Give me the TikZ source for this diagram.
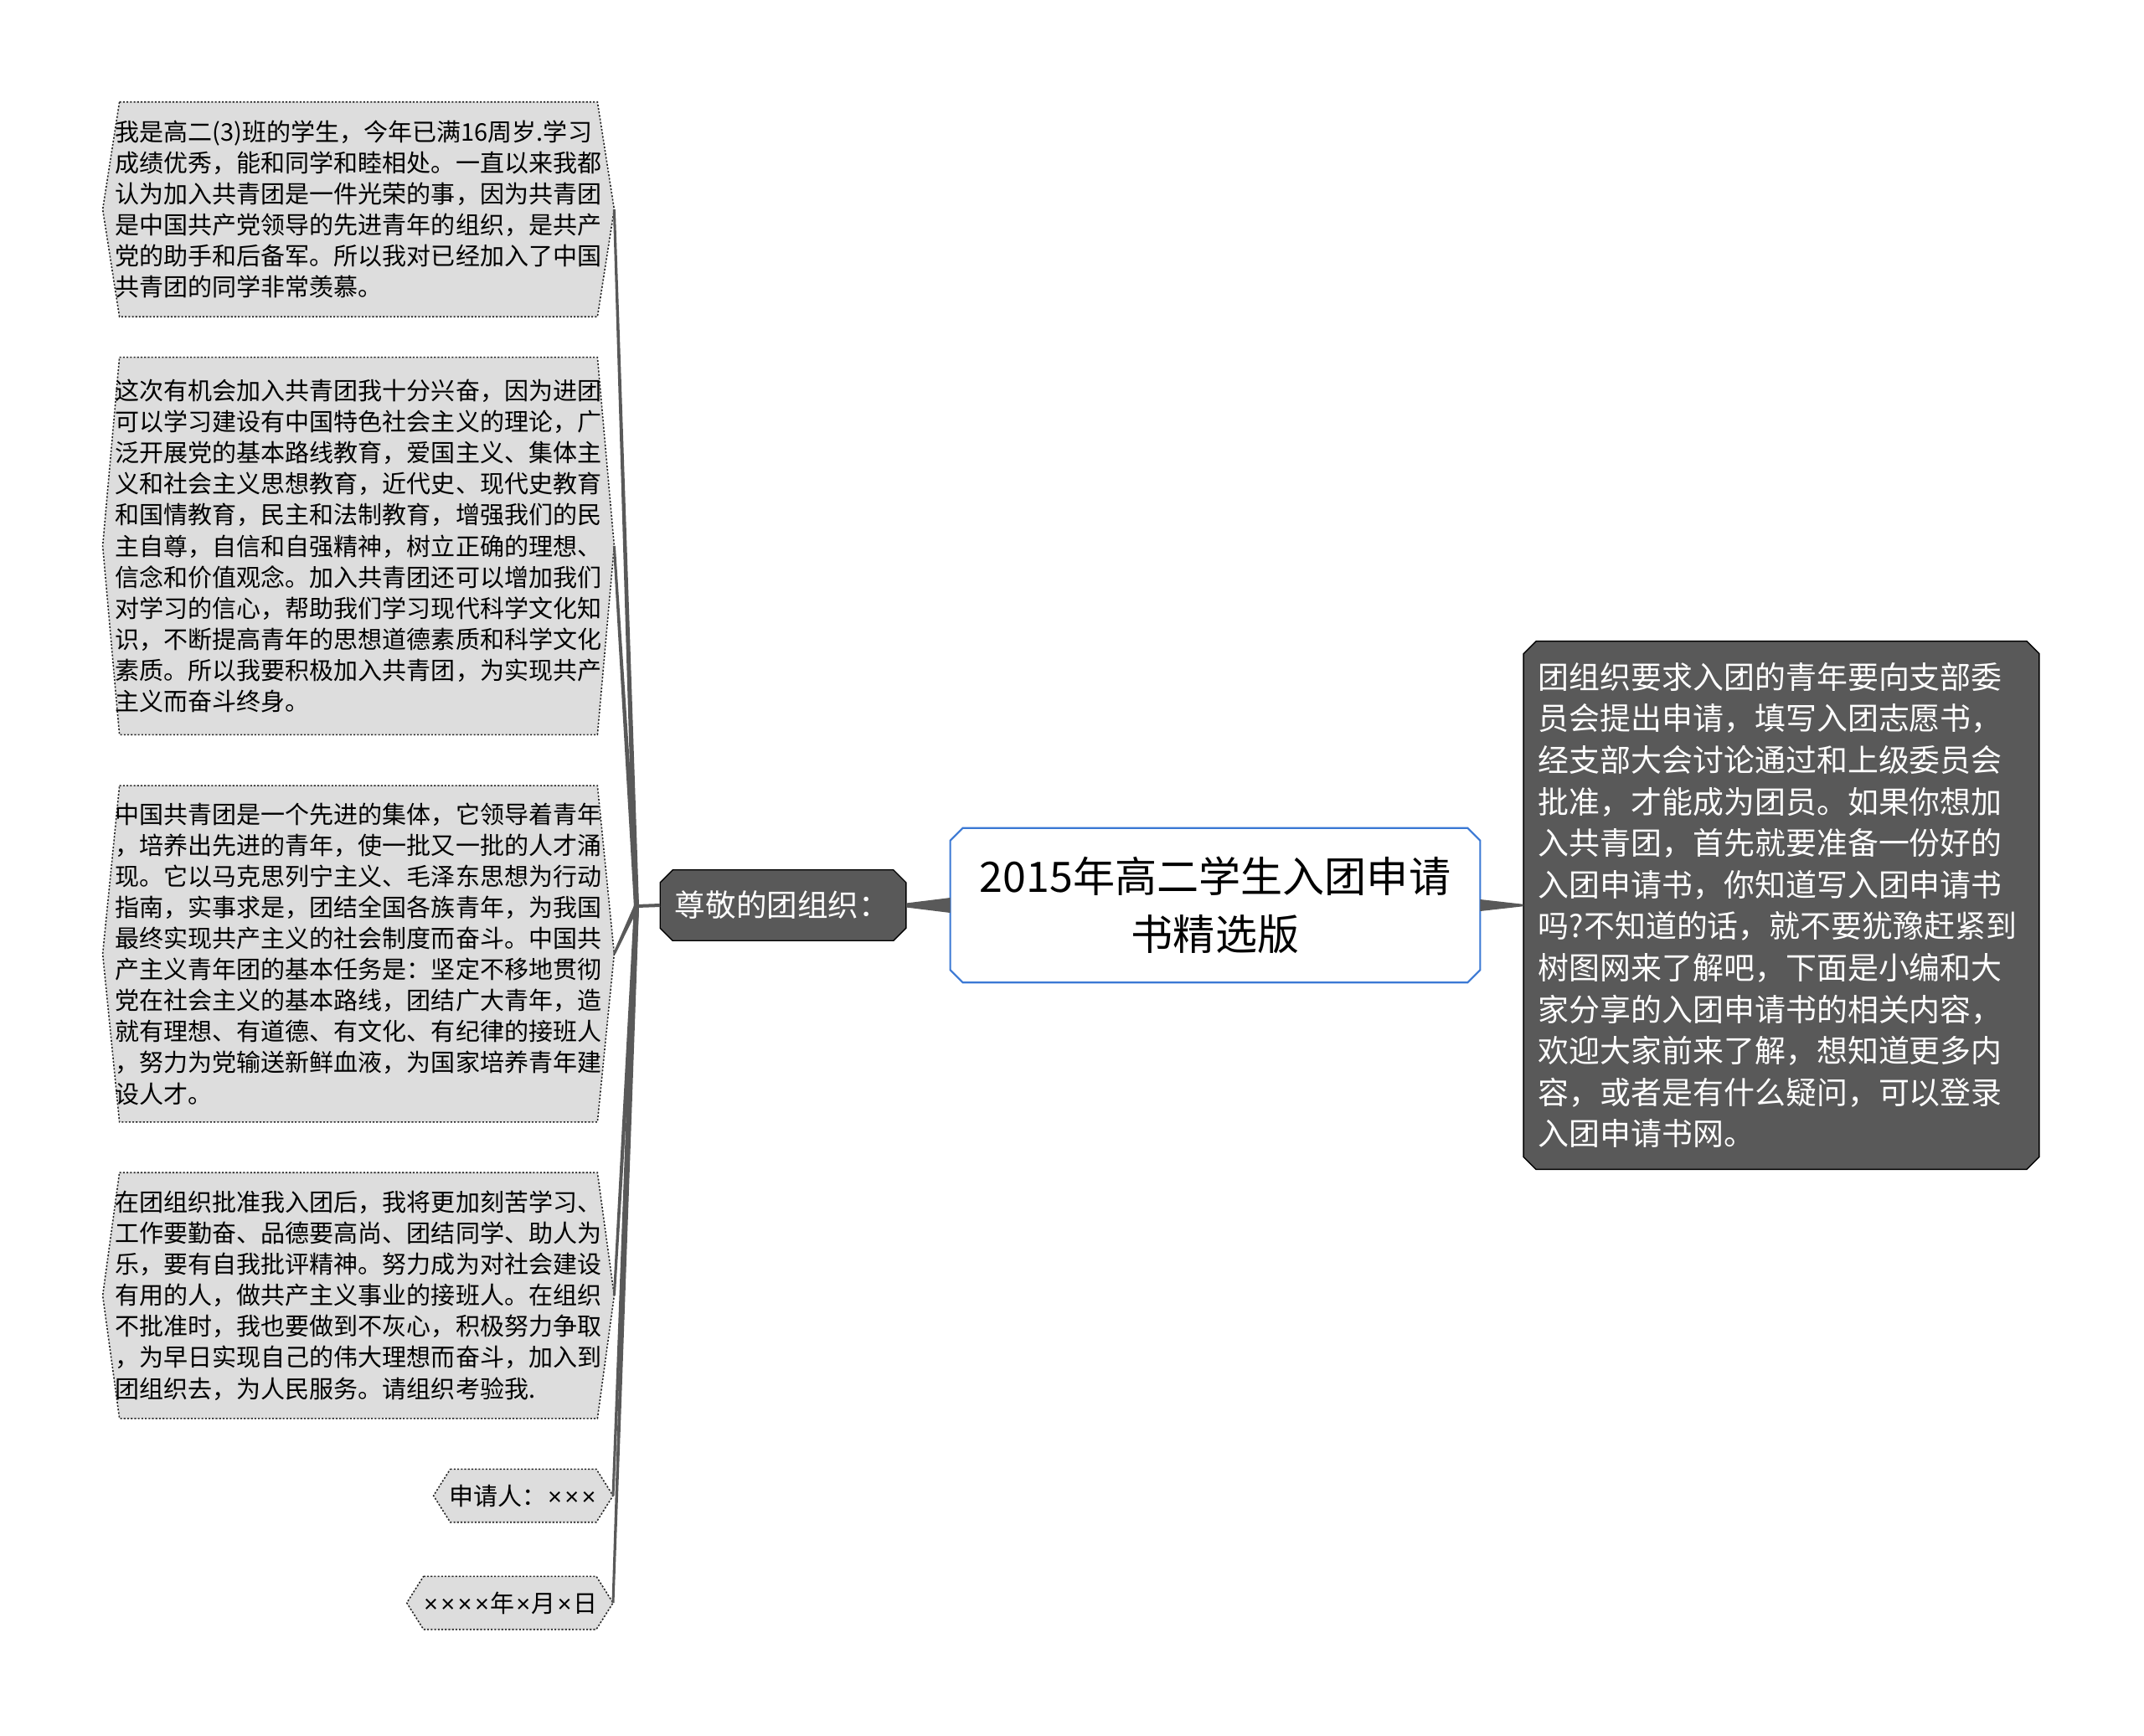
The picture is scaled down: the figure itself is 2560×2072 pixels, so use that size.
\documentclass[tikz,border=0pt]{standalone}
\usepackage{fontspec}
\setmainfont{Noto Sans CJK SC}
\newfontfamily\latinfont{Liberation Sans}
\usetikzlibrary{calc, backgrounds, positioning}

\definecolor{darkgrey}{HTML}{595959}
\definecolor{leafgrey}{HTML}{DDDDDD}
\definecolor{rootblue}{HTML}{3A78D4}

\newcommand{\mul}{\makebox[0.7em]{\latinfont ×}}

\tikzset{
  root/.style={minimum width=6.31cm, minimum height=1.83cm, inner sep=0pt,
    align=center, font=\fontsize{14.25}{19.5}\selectfont},
  intro/.style={text width=5.8cm, inner xsep=0.17cm, inner ysep=0pt,
    minimum height=6.29cm, align=left, text=white,
    font=\fontsize{10.5}{14.1}\selectfont},
  greet/.style={text width=2.58cm, inner xsep=0.17cm, inner ysep=0pt,
    minimum height=0.83cm, align=left, text=white,
    font=\fontsize{10.4}{12}\selectfont},
  leaf/.style={text width=5.8cm, inner xsep=0.145cm, inner ysep=0pt,
    align=left, font=\fontsize{8.25}{10.55}\selectfont},
  leafsmall/.style={inner xsep=0.18cm, inner ysep=0pt, minimum height=0.62cm,
    font=\fontsize{8.25}{10.55}\selectfont},
  leafline/.style={fill=leafgrey, draw=black!85, line width=0.45pt,
    dash pattern=on 0.6pt off 0.6pt},
  darkline/.style={fill=darkgrey},
  rootline/.style={fill=white, draw=rootblue, line width=0.6pt},
  link/.style={draw=darkgrey, line width=0.04cm}
}

% tapered branch: from #1 (half width #3) to #2 (half width #4)
\newcommand{\taper}[4]{\fill[darkgrey] ($(#1)!#3!90:(#2)$) -- ($(#2)!#4!-90:(#1)$)
  -- ($(#2)!#4!90:(#1)$) -- ($(#1)!#3!-90:(#2)$) -- cycle;}

\begin{document}
\begin{tikzpicture}[x=0.01cm, y=-0.01cm]
  \useasboundingbox (0,0) rectangle (2560,2072);

  % Central topic and its two branches
  \node[root] (root) at (1451,1081) {2015年高二学生入团申请\\书精选版};
  \node[intro] (intro) at (2127,1081) {团组织要求入团的青年要向支部委\\
    员会提出申请，填写入团志愿书，\\
    经支部大会讨论通过和上级委员会\\
    批准，才能成为团员。如果你想加\\
    入共青团，首先就要准备一份好的\\
    入团申请书，你知道写入团申请书\\
    吗?不知道的话，就不要犹豫赶紧到\\
    树图网来了解吧，下面是小编和大\\
    家分享的入团申请书的相关内容，\\
    欢迎大家前来了解，想知道更多内\\
    容，或者是有什么疑问，可以登录\\
    入团申请书网。};
  \node[greet] (greet) at (935,1081) {尊敬的团组织：};
  \coordinate (junc) at (760,1082);

  % Letter paragraphs
  \node[leaf, minimum height=2.55cm] (p1) at (428,250) {我是高二(3)班的学生，今年已满16周岁.学习\\
    成绩优秀，能和同学和睦相处。一直以来我都\\
    认为加入共青团是一件光荣的事，因为共青团\\
    是中国共产党领导的先进青年的组织，是共产\\
    党的助手和后备军。所以我对已经加入了中国\\
    共青团的同学非常羡慕。};
  \node[leaf, minimum height=4.49cm] (p2) at (428,652) {这次有机会加入共青团我十分兴奋，因为进团\\
    可以学习建设有中国特色社会主义的理论，广\\
    泛开展党的基本路线教育，爱国主义、集体主\\
    义和社会主义思想教育，近代史、现代史教育\\
    和国情教育，民主和法制教育，增强我们的民\\
    主自尊，自信和自强精神，树立正确的理想、\\
    信念和价值观念。加入共青团还可以增加我们\\
    对学习的信心，帮助我们学习现代科学文化知\\
    识，不断提高青年的思想道德素质和科学文化\\
    素质。所以我要积极加入共青团，为实现共产\\
    主义而奋斗终身。};
  \node[leaf, minimum height=4.0cm] (p3) at (428,1139) {中国共青团是一个先进的集体，它领导着青年\\
    ，培养出先进的青年，使一批又一批的人才涌\\
    现。它以马克思列宁主义、毛泽东思想为行动\\
    指南，实事求是，团结全国各族青年，为我国\\
    最终实现共产主义的社会制度而奋斗。中国共\\
    产主义青年团的基本任务是：坚定不移地贯彻\\
    党在社会主义的基本路线，团结广大青年，造\\
    就有理想、有道德、有文化、有纪律的接班人\\
    ，努力为党输送新鲜血液，为国家培养青年建\\
    设人才。};
  \node[leaf, minimum height=2.92cm] (p4) at (428,1547) {在团组织批准我入团后，我将更加刻苦学习、\\
    工作要勤奋、品德要高尚、团结同学、助人为\\
    乐，要有自我批评精神。努力成为对社会建设\\
    有用的人，做共产主义事业的接班人。在组织\\
    不批准时，我也要做到不灰心，积极努力争取\\
    ，为早日实现自己的伟大理想而奋斗，加入到\\
    团组织去，为人民服务。请组织考验我.};
  \node[leafsmall, anchor=east] (sig) at (732,1786) {申请人：\mul\mul\mul};
  \node[leafsmall, anchor=east] (dat) at (732,1914) {\mul\mul\mul\mul 年\mul 月\mul 日};

  % Frames behind the texts
  \begin{scope}[on background layer]
    \foreach \n in {p1,p2,p3,p4,sig,dat}
      \draw[leafline] ([xshift=0.2cm]\n.north west) -- ([xshift=-0.2cm]\n.north east)
        -- (\n.east) -- ([xshift=-0.2cm]\n.south east)
        -- ([xshift=0.2cm]\n.south west) -- (\n.west) -- cycle;
    \foreach \n/\s in {root/rootline, intro/darkline, greet/darkline}
      \draw[\s] ([xshift=0.15cm]\n.north west) -- ([xshift=-0.15cm]\n.north east)
        -- ([yshift=-0.15cm]\n.north east) -- ([yshift=0.15cm]\n.south east)
        -- ([xshift=-0.15cm]\n.south east) -- ([xshift=0.15cm]\n.south west)
        -- ([yshift=0.15cm]\n.south west) -- ([yshift=-0.15cm]\n.north west) -- cycle;
  \end{scope}

  % Connectors
  \taper{root.west}{greet.east}{0.09cm}{0.025cm}
  \taper{root.east}{intro.west}{0.07cm}{0.012cm}
  \draw[link] (greet.west) -- (junc);
  \foreach \n in {p1,p2,p3,p4,sig,dat}{
    \taper{junc}{\n.east}{0.03cm}{0.015cm}
  }

\end{tikzpicture}
\end{document}
